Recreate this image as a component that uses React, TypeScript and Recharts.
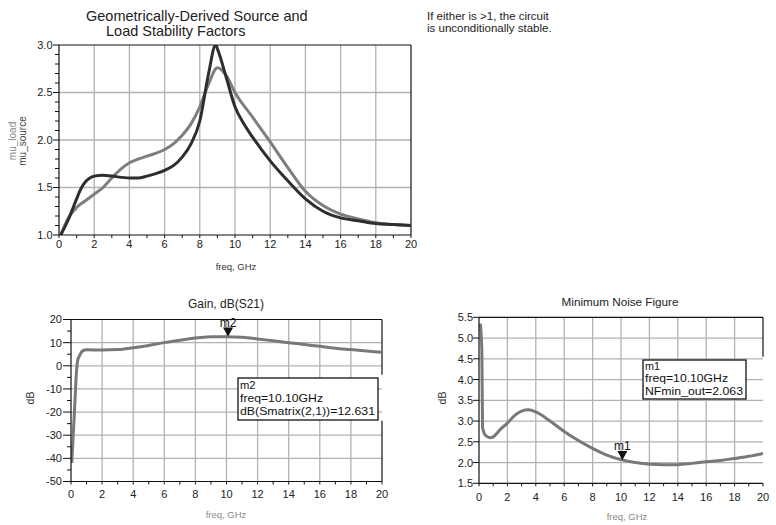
import React from 'react';
import { LineChart, Line, XAxis, YAxis, CartesianGrid, ReferenceLine, ReferenceDot } from 'recharts';

const FONT = '"Liberation Sans", Arial, Helvetica, sans-serif';

// ---- Stability factors (top chart) ----
const muSourceFreq = [0.1, 0.5, 1, 1.2, 1.5, 1.75, 2, 2.5, 3, 4, 4.5, 5, 6, 6.5, 7, 7.5, 8, 8.5, 8.9, 9, 9.5, 10, 10.5, 11, 12, 13, 14, 15, 16, 17, 18, 19, 20];
const muSource = [1.0, 1.15, 1.38, 1.47, 1.56, 1.6, 1.62, 1.63, 1.62, 1.6, 1.6, 1.62, 1.68, 1.73, 1.82, 1.96, 2.2, 2.7, 3.0, 2.96, 2.66, 2.35, 2.17, 2.03, 1.78, 1.57, 1.38, 1.25, 1.18, 1.15, 1.12, 1.11, 1.1];
const muLoadFreq = [0.1, 0.5, 1, 1.5, 2, 2.5, 3, 3.5, 4, 4.5, 5, 6, 6.5, 7, 7.5, 8, 8.5, 9, 9.5, 10, 11, 12, 13, 14, 15, 16, 17, 18, 19, 20];
const muLoad = [1.0, 1.17, 1.29, 1.36, 1.43, 1.5, 1.6, 1.69, 1.76, 1.8, 1.83, 1.9, 1.96, 2.05, 2.17, 2.35, 2.59, 2.76, 2.68, 2.5, 2.24, 1.98, 1.71, 1.46, 1.31, 1.22, 1.17, 1.13, 1.11, 1.1];
const stabYMajors = [1.0, 1.5, 2.0, 2.5, 3.0];

// ---- Gain dB(S21) ----
const gainFreq = [0.05, 0.15, 0.26, 0.32, 0.42, 0.57, 0.78, 1, 2, 3, 4, 5, 6, 7, 8, 9, 10, 11, 12, 13, 14, 15, 16, 17, 18, 19, 20];
const gainDb = [-42, -29, -14.6, -6, 2, 4.7, 6.6, 6.9, 6.8, 7.0, 7.8, 8.8, 10, 11, 12, 12.5, 12.6, 12.3, 11.6, 10.8, 10, 9.2, 8.4, 7.6, 7, 6.4, 5.8];
const gainYMajors = [-50, -40, -30, -20, -10, 0, 10, 20];
const gainMarker = { name: 'm2', freq: 10.1, value: 12.631 };

// ---- Minimum noise figure ----
const noiseFreq = [0.1, 0.15, 0.2, 0.25, 0.4, 0.6, 0.8, 1, 1.5, 2, 2.5, 3, 3.5, 4, 5, 6, 7, 8, 9, 10, 11, 12, 13, 14, 15, 16, 17, 18, 19, 20];
const nfMin = [5.35, 5.1, 4.7, 2.85, 2.68, 2.62, 2.6, 2.62, 2.8, 2.95, 3.13, 3.24, 3.27, 3.22, 3.0, 2.75, 2.53, 2.34, 2.18, 2.07, 2.0, 1.96, 1.95, 1.95, 1.98, 2.02, 2.05, 2.1, 2.15, 2.22];
const noiseYMajors = [1.5, 2.0, 2.5, 3.0, 3.5, 4.0, 4.5, 5.0, 5.5];
const noiseMarker = { name: 'm1', freq: 10.1, value: 2.063 };

const xMajors = [0, 2, 4, 6, 8, 10, 12, 14, 16, 18, 20];
const xGrid = [2, 4, 6, 8, 10, 12, 14, 16, 18];

const zip = (xs: number[], ys: number[]) => xs.map((f, i) => ({ freq: f, v: ys[i] }));
const steps = (a: number, b: number, s: number) => {
  const out: number[] = [];
  const n = Math.round((b - a) / s);
  for (let i = 0; i <= n; i++) out.push(Math.round((a + i * s) * 1000) / 1000);
  return out;
};
const isIn = (arr: number[], v: number) => arr.some((m) => Math.abs(m - v) < 1e-6);

const makeXTick = (labelOffset: number) => (props: any) => {
  const { x, y, payload } = props;
  const v = payload.value as number;
  const major = isIn(xMajors, v);
  return (
    <g>
      <line x1={x} y1={y} x2={x} y2={y + 3} stroke="#111" strokeWidth={1} />
      {major && (
        <text x={x} y={y + labelOffset} textAnchor="middle" fontSize={11} fill="#222" fontFamily={FONT}>
          {v}
        </text>
      )}
    </g>
  );
};

const makeYTick = (majors: number[], majorLen: number, minorLen: number, gap: number, fmt: (v: number) => string) => (props: any) => {
  const { x, y, payload } = props;
  const v = payload.value as number;
  const major = isIn(majors, v);
  const len = major ? majorLen : minorLen;
  return (
    <g>
      <line x1={x - len} y1={y} x2={x} y2={y} stroke="#111" strokeWidth={1} />
      {major && (
        <text x={x - gap} y={y} dy="0.36em" textAnchor="end" fontSize={11} fill="#222" fontFamily={FONT}>
          {fmt(v)}
        </text>
      )}
    </g>
  );
};

const markerShape = (name: string) => (props: any) => {
  const { cx, cy } = props;
  return (
    <g>
      <path d={`M${cx - 5},${cy - 9} L${cx + 5},${cy - 9} L${cx},${cy} Z`} fill="#111" />
      <text x={cx} y={cy - 10} textAnchor="middle" fontSize={12} fill="#111" fontFamily={FONT}>
        {name}
      </text>
    </g>
  );
};

type Series = { data: { freq: number; v: number }[]; color: string; width: number };

type PanelProps = {
  left: number;
  top: number;
  width: number;
  height: number;
  margin: { top: number; right: number; left: number; bottom: number };
  yWidth: number;
  xHeight: number;
  yDomain: [number, number];
  yTicks: number[];
  yMajors: number[];
  yGrid: number[];
  yMajorLen: number;
  yMinorLen: number;
  yGap: number;
  fmt: (v: number) => string;
  xLabelOffset: number;
  series: Series[];
  rightSegments: [number, number][];
  marker?: { name: string; freq: number; value: number };
};

function Panel(p: PanelProps) {
  return (
    <div style={{ position: 'absolute', left: p.left, top: p.top }}>
      <LineChart width={p.width} height={p.height} margin={p.margin}>
        <CartesianGrid horizontalValues={p.yGrid} verticalValues={xGrid} stroke="#b2b2b2" strokeWidth={1.3} />
        <XAxis
          type="number"
          dataKey="freq"
          domain={[0, 20]}
          ticks={steps(0, 20, 1)}
          interval={0}
          height={p.xHeight}
          tickSize={0}
          tickMargin={0}
          tickLine={false}
          tick={makeXTick(p.xLabelOffset)}
          axisLine={{ stroke: '#111', strokeWidth: 1.2 }}
          allowDataOverflow
        />
        <YAxis
          type="number"
          domain={p.yDomain}
          ticks={p.yTicks}
          interval={0}
          width={p.yWidth}
          tickSize={0}
          tickMargin={0}
          tickLine={false}
          tick={makeYTick(p.yMajors, p.yMajorLen, p.yMinorLen, p.yGap, p.fmt)}
          axisLine={{ stroke: '#111', strokeWidth: 1.2 }}
          allowDataOverflow
        />
        <ReferenceLine y={p.yDomain[1]} stroke="#111" strokeWidth={1.2} />
        {p.rightSegments.map((s, i) => (
          <ReferenceLine
            key={'r' + i}
            segment={[
              { x: 20, y: s[0] },
              { x: 20, y: s[1] },
            ]}
            stroke="#111"
            strokeWidth={1.2}
          />
        ))}
        {p.series.map((s, i) => (
          <Line
            key={'s' + i}
            data={s.data}
            dataKey="v"
            type="monotone"
            stroke={s.color}
            strokeWidth={s.width}
            dot={false}
            activeDot={false}
            isAnimationActive={false}
          />
        ))}
        {p.marker && (
          <ReferenceDot x={p.marker.freq} y={p.marker.value} r={0} shape={markerShape(p.marker.name)} />
        )}
      </LineChart>
    </div>
  );
}

export default function App() {
  const txt = { fontFamily: FONT } as const;
  return (
    <div style={{ position: 'absolute', left: 0, top: 0, width: 776, height: 525, background: '#fff', overflow: 'hidden' }}>
      <Panel
        left={0}
        top={0}
        width={430}
        height={280}
        margin={{ top: 45, right: 19, left: 0, bottom: 0 }}
        yWidth={59}
        xHeight={45}
        yDomain={[1, 3]}
        yTicks={steps(1, 3, 0.1)}
        yMajors={stabYMajors}
        yGrid={[1.5, 2.0, 2.5]}
        yMajorLen={6}
        yMinorLen={4}
        yGap={6.5}
        fmt={(v) => v.toFixed(1)}
        xLabelOffset={13}
        series={[
          { data: zip(muLoadFreq, muLoad), color: '#7e7e7e', width: 3 },
          { data: zip(muSourceFreq, muSource), color: '#2e2e2e', width: 3 },
        ]}
        rightSegments={[[1, 3]]}
      />
      <Panel
        left={0}
        top={290}
        width={400}
        height={235}
        margin={{ top: 29.5, right: 18, left: 0, bottom: 0 }}
        yWidth={71}
        xHeight={43.5}
        yDomain={[-50, 20]}
        yTicks={steps(-50, 20, 5)}
        yMajors={gainYMajors}
        yGrid={[-40, -30, -20, -10, 0, 10]}
        yMajorLen={8}
        yMinorLen={4}
        yGap={9}
        fmt={(v) => String(v)}
        xLabelOffset={16.5}
        series={[{ data: zip(gainFreq, gainDb), color: '#787878', width: 3 }]}
        rightSegments={[
          [-50, -23.7],
          [-3.9, 20],
        ]}
        marker={gainMarker}
      />
      <Panel
        left={400}
        top={290}
        width={376}
        height={235}
        margin={{ top: 27.3, right: 13, left: 0, bottom: 0 }}
        yWidth={79}
        xHeight={41.7}
        yDomain={[1.5, 5.5]}
        yTicks={noiseYMajors}
        yMajors={noiseYMajors}
        yGrid={[2.0, 2.5, 3.0, 3.5, 4.0, 4.5, 5.0]}
        yMajorLen={6}
        yMinorLen={6}
        yGap={6}
        fmt={(v) => v.toFixed(1)}
        xLabelOffset={18}
        series={[{ data: zip(noiseFreq, nfMin), color: '#787878', width: 3 }]}
        rightSegments={[[4.55, 5.5]]}
        marker={noiseMarker}
      />
      <svg width={776} height={525} style={{ position: 'absolute', left: 0, top: 0, pointerEvents: 'none' }}>
        <g style={txt} fill="#222">
          <text x={86} y={20.5} fontSize={14.5}>Geometrically-Derived Source and</text>
          <text x={106} y={35.5} fontSize={14.5}>Load Stability Factors</text>
          <text x={427} y={19.5} fontSize={11.5}>If either is &gt;1, the circuit</text>
          <text x={427} y={31.5} fontSize={11.5}>is unconditionally stable.</text>
          <text x={226} y={308} fontSize={12} textAnchor="middle">Gain, dB(S21)</text>
          <text x={620} y={306} fontSize={11.7} textAnchor="middle">Minimum Noise Figure</text>
          <text x={236} y={270} fontSize={9.5} textAnchor="middle" fill="#333">freq, GHz</text>
          <text x={226} y={518} fontSize={9.5} textAnchor="middle" fill="#888">freq, GHz</text>
          <text x={627} y={520} fontSize={9.5} textAnchor="middle" fill="#888">freq, GHz</text>
          <text transform="translate(16,141) rotate(-90)" fontSize={10} textAnchor="middle" fill="#888">mu_load</text>
          <text transform="translate(26,141) rotate(-90)" fontSize={10} textAnchor="middle" fill="#444">mu_source</text>
          <text transform="translate(33.5,398) rotate(-90)" fontSize={10.5} textAnchor="middle" fill="#333">dB</text>
          <text transform="translate(446,398) rotate(-90)" fontSize={10.5} textAnchor="middle" fill="#333">dB</text>
        </g>
        <g style={txt} fill="#111">
          <rect x={238} y={378} width={140} height={42} fill="#fff" stroke="#111" strokeWidth={1.3} />
          <text x={240} y={388.5} fontSize={11.2}>m2</text>
          <text x={240} y={401.5} fontSize={11.2} textLength={83} lengthAdjust="spacingAndGlyphs">freq=10.10GHz</text>
          <text x={240} y={414.5} fontSize={11.2} textLength={135} lengthAdjust="spacingAndGlyphs">dB(Smatrix(2,1))=12.631</text>
          <rect x={643} y={360} width={103} height={39} fill="#fff" stroke="#111" strokeWidth={1.3} />
          <text x={645} y={369.8} fontSize={10.8}>m1</text>
          <text x={645} y={382.3} fontSize={10.8} textLength={83} lengthAdjust="spacingAndGlyphs">freq=10.10GHz</text>
          <text x={645} y={394.8} fontSize={10.8} textLength={98} lengthAdjust="spacingAndGlyphs">NFmin_out=2.063</text>
        </g>
      </svg>
    </div>
  );
}
